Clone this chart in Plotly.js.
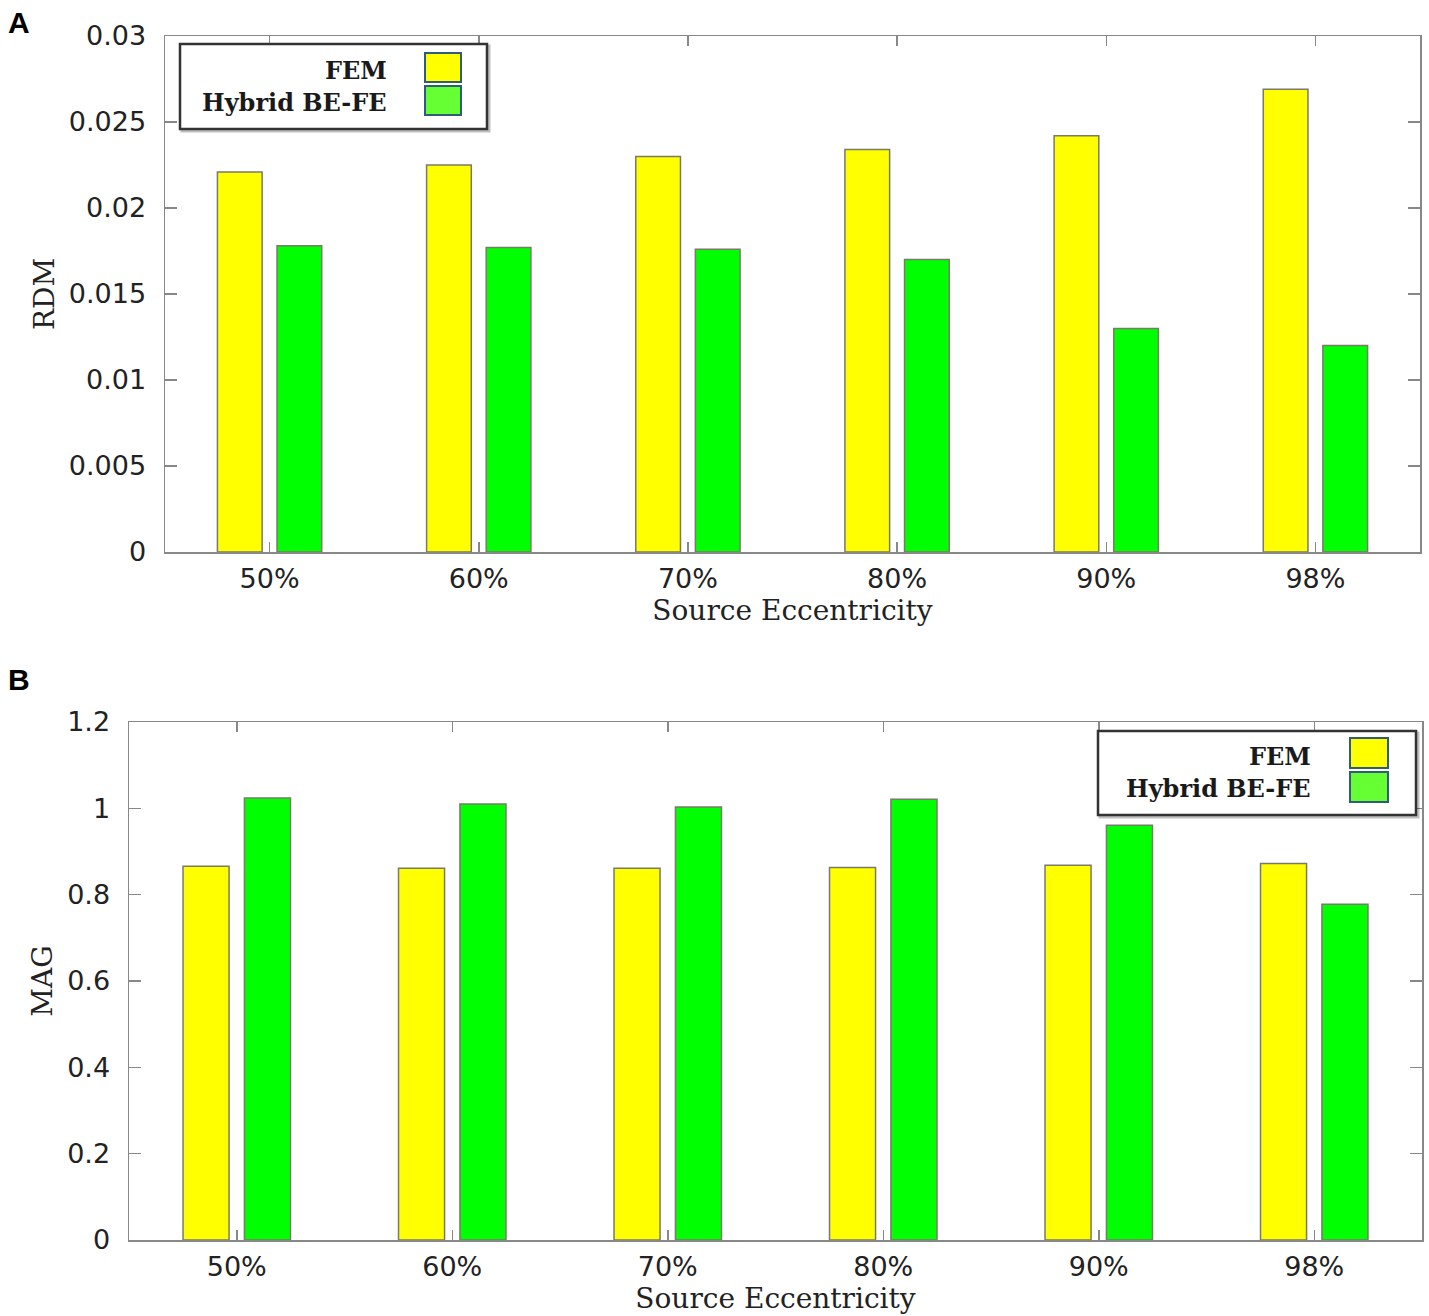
<!DOCTYPE html>
<html>
<head>
<meta charset="utf-8">
<script src="https://cdn.plot.ly/plotly-3.0.1.min.js"></script>
<style>
  html, body { margin: 0; padding: 0; background: #fff; }
  #chart { width: 1429px; height: 1316px; }
</style>
</head>
<body>
<div id="chart"></div>
<script>
// source eccentricity categories
var categories = ['50%', '60%', '70%', '80%', '90%', '98%'];

// panel A: RDM
var rdmFEM    = [0.0221, 0.0225, 0.0230, 0.0234, 0.0242, 0.0269];
var rdmHybrid = [0.0178, 0.0177, 0.0176, 0.0170, 0.0130, 0.0120];

// panel B: MAG
var magFEM    = [0.866, 0.861, 0.861, 0.863, 0.868, 0.872];
var magHybrid = [1.024, 1.010, 1.003, 1.021, 0.961, 0.778];

var seriesNames = ['FEM', 'Hybrid BE-FE'];

var W = 1429, H = 1316;
function px(x) { return x / W; }
function py(y) { return (H - y) / H; }

var yellow = '#ffff00';
var green = '#00ff00';
var edge = '#7a7a6a';

function barTrace(x, y, name, color, xa, ya) {
	return {
		x: x, y: y, name: name, type: 'bar',
		xaxis: xa, yaxis: ya,
		marker: {color: color, line: {color: edge, width: 1.5}},
		showlegend: false,
		hoverinfo: 'x+y+name'
	};
}

var data = [
	barTrace(categories, rdmFEM, seriesNames[0], yellow, 'x', 'y'),
	barTrace(categories, rdmHybrid, seriesNames[1], green, 'x', 'y'),
	barTrace(categories, magFEM, seriesNames[0], yellow, 'x2', 'y2'),
	barTrace(categories, magHybrid, seriesNames[1], green, 'x2', 'y2')
];

var tickFont = {family: 'DejaVu Sans', size: 27, color: '#222'};
var titleFont = {family: 'DejaVu Serif', size: 28, color: '#222'};

function xAxis(domain, anchor) {
	return {
		domain: domain, anchor: anchor, type: 'category',
		range: [-0.5, 5.5],
		showline: true, linecolor: '#888', linewidth: 1.5, mirror: 'ticks',
		ticks: 'inside', ticklen: 10, tickcolor: '#888', tickwidth: 1.5,
		showgrid: false, zeroline: false,
		tickfont: tickFont, ticklabelstandoff: 2,
		title: {text: 'Source Eccentricity', font: titleFont, standoff: 2}
	};
}

function yAxis(domain, anchor, range, dtick, title) {
	return {
		domain: domain, anchor: anchor,
		range: range, dtick: dtick, tick0: 0,
		showline: true, linecolor: '#888', linewidth: 1.5, mirror: 'ticks',
		ticks: 'inside', ticklen: 12, tickcolor: '#888', tickwidth: 1.5,
		showgrid: false, zeroline: false,
		tickfont: tickFont, ticklabelstandoff: 12,
		title: {text: title, font: titleFont, standoff: 6}
	};
}

// hand-made legend boxes so the swatch sits right of the text, as in the figure
function legendBox(x0, y0, x1, y1, textRight, rows) {
	var shapes = [], notes = [];
	shapes.push({type: 'rect', xref: 'paper', yref: 'paper',
		x0: px(x0 + 2), x1: px(x1 + 2), y0: py(y1 + 2), y1: py(y0 + 2),
		line: {color: 'rgba(0,0,0,0.25)', width: 3}});
	shapes.push({type: 'rect', xref: 'paper', yref: 'paper',
		x0: px(x0), x1: px(x1), y0: py(y1), y1: py(y0),
		fillcolor: '#fff', line: {color: '#333', width: 2.5}});
	rows.forEach(function(r){
		shapes.push({type: 'rect', xref: 'paper', yref: 'paper',
			x0: px(r.sx0), x1: px(r.sx1), y0: py(r.sy1), y1: py(r.sy0),
			fillcolor: r.color, line: {color: '#2e5c7a', width: 2}});
		notes.push({xref: 'paper', yref: 'paper', x: px(textRight), y: py(r.ty),
			xanchor: 'right', yanchor: 'middle', showarrow: false, text: '<b>' + r.name + '</b>',
			font: {family: 'DejaVu Serif', size: 24, color: '#1a1a1a'}});
	});
	return {shapes: shapes, notes: notes};
}

var legA = legendBox(180, 44, 487, 129, 389, [
	{name: seriesNames[0], color: '#ffff00', sx0: 425, sx1: 461, sy0: 53, sy1: 82, ty: 70},
	{name: seriesNames[1], color: '#66ff33', sx0: 425, sx1: 461, sy0: 86, sy1: 115, ty: 102}
]);
var legB = legendBox(1098, 731, 1416, 815, 1313, [
	{name: seriesNames[0], color: '#ffff00', sx0: 1350, sx1: 1388, sy0: 738, sy1: 768, ty: 756},
	{name: seriesNames[1], color: '#66ff33', sx0: 1350, sx1: 1388, sy0: 772, sy1: 802, ty: 788}
]);

var panelFont = {family: 'Liberation Sans', size: 30, color: '#000'};

var layout = {
	width: W, height: H,
	margin: {l: 0, r: 0, t: 0, b: 0},
	paper_bgcolor: '#fff', plot_bgcolor: '#fff',
	barmode: 'group', bargap: 0.43, bargroupgap: 0.25,
	showlegend: false,
	xaxis: xAxis([px(165), px(1420)], 'y'),
	yaxis: yAxis([py(552), py(36)], 'x', [0, 0.03], 0.005, 'RDM'),
	xaxis2: xAxis([px(129), px(1422)], 'y2'),
	yaxis2: yAxis([py(1240), py(722)], 'x2', [0, 1.2], 0.2, 'MAG'),
	shapes: legA.shapes.concat(legB.shapes),
	annotations: [
		{xref: 'paper', yref: 'paper', x: px(6), y: py(4), xanchor: 'left', yanchor: 'top',
			showarrow: false, text: '<b>A</b>', font: panelFont},
		{xref: 'paper', yref: 'paper', x: px(6), y: py(661), xanchor: 'left', yanchor: 'top',
			showarrow: false, text: '<b>B</b>', font: panelFont}
	].concat(legA.notes, legB.notes)
};

Plotly.newPlot('chart', data, layout, {displayModeBar: false, staticPlot: true});
</script>
</body>
</html>
